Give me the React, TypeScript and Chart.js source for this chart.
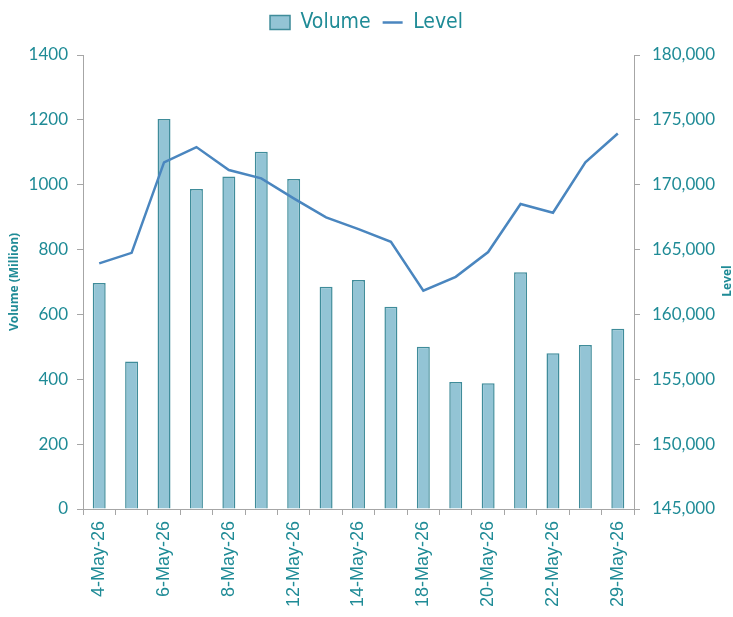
import React, { useEffect, useRef } from "react";
import { Chart, registerables } from "chart.js";

Chart.register(...registerables);

const categories = [
  "4-May-26", "5-May-26", "6-May-26", "7-May-26", "8-May-26", "11-May-26",
  "12-May-26", "13-May-26", "14-May-26", "15-May-26", "18-May-26", "19-May-26",
  "20-May-26", "21-May-26", "22-May-26", "26-May-26", "29-May-26",
];
const volume = [697, 455, 1203, 987, 1025, 1102, 1018, 685, 706, 624, 500, 392, 388, 730, 480, 506, 556];
const level = [
  163940, 164750, 171720, 172900, 171130, 170490, 168950, 167480, 166580,
  165600, 161830, 162900, 164810, 168510, 167840, 171720, 173950,
];
const volumeTicks = [0, 1400, 200];
const levelTicks = [145000, 180000, 5000];

const TEAL = "#1F8B96";
const AXIS = "#A6A6A6";

export default function App() {
  const ref = useRef<HTMLCanvasElement | null>(null);
  useEffect(() => {
    if (!ref.current) return;
    const titlePlugin = {
      id: "axisTitles",
      afterInit(chart: any) {
        const lg = chart.legend;
        if (lg) {
          const orig = lg.fit.bind(lg);
          lg.fit = function () {
            orig();
            this.height = 55;
          };
        }
      },
      afterDraw(chart: any) {
        const ctx = chart.ctx;
        const draw = (t: string, x: number, y: number) => {
          ctx.save();
          ctx.fillStyle = TEAL;
          ctx.font = "bold 12px 'Open Sans'";
          ctx.textAlign = "center";
          ctx.textBaseline = "middle";
          ctx.translate(x, y);
          ctx.rotate(-Math.PI / 2);
          ctx.fillText(t, 0, 0);
          ctx.restore();
        };
        draw("Volume (Million)", 15, 282);
        draw("Level", 728, 281);
      },
    };
    const chart = new Chart(ref.current, {
      type: "bar",
      data: {
        labels: categories,
        datasets: [
          {
            type: "bar",
            label: "Volume",
            data: volume,
            backgroundColor: "#93C4D5",
            borderColor: "#3F8C9A",
            borderWidth: 1.5,
            barPercentage: 0.4,
            categoryPercentage: 1,
            yAxisID: "y",
            order: 1,
            pointStyle: "rect",
          } as any,
          {
            type: "line",
            label: "Level",
            data: level,
            borderColor: "#4A86BF",
            backgroundColor: "#4A86BF",
            borderWidth: 2.5,
            pointRadius: 0,
            tension: 0,
            yAxisID: "y1",
            order: 0,
            pointStyle: "line",
          } as any,
        ],
      },
      options: {
        responsive: true,
        maintainAspectRatio: false,
        animation: false,
        layout: { padding: 0 },
        plugins: {
          tooltip: { enabled: false },
          legend: {
            position: "top",
            labels: {
              usePointStyle: true,
              pointStyleWidth: 20,
              boxHeight: 14,
              padding: 12,
              color: TEAL,
              font: { family: "'DejaVu Sans', sans-serif", size: 21, weight: "normal ultra-condensed" },
              sort: (a: any, b: any) => a.datasetIndex - b.datasetIndex,
            },
          },
        },
        scales: {
          x: {
            offset: true,
            grid: { offset: true, drawOnChartArea: false, drawTicks: true, tickLength: 6, color: AXIS },
            border: { color: AXIS },
            ticks: {
              autoSkip: false,
              maxRotation: 90,
              minRotation: 90,
              padding: 6,
              color: TEAL,
              font: { family: "'Liberation Sans', Arial, sans-serif", size: 18 },
              callback: function (this: any, _v: any, i: number) {
                return i % 2 === 0 ? categories[i] : "";
              },
            },
            afterFit: (s: any) => { s.height = 108; },
          },
          y: {
            position: "left",
            min: volumeTicks[0],
            max: volumeTicks[1],
            grid: { drawOnChartArea: false, drawTicks: true, tickLength: 6, color: AXIS },
            border: { color: AXIS },
            ticks: {
              stepSize: volumeTicks[2],
              padding: 9,
              color: TEAL,
              font: { family: "Lato", size: 17 },
              callback: (v: any) => String(v),
            },
            afterFit: (s: any) => { s.width = 83; },
          },
          y1: {
            position: "right",
            min: levelTicks[0],
            max: levelTicks[1],
            grid: { drawOnChartArea: false, drawTicks: true, tickLength: 6, color: AXIS },
            border: { color: AXIS },
            ticks: {
              stepSize: levelTicks[2],
              padding: 12,
              color: TEAL,
              font: { family: "Lato", size: 17 },
              callback: (v: any) => Number(v).toLocaleString("en-US"),
            },
            afterFit: (s: any) => { s.width = 99; },
          },
        },
      } as any,
      plugins: [titlePlugin],
    });
    return () => chart.destroy();
  }, []);
  return (
    <div style={{ position: "absolute", left: 0, top: 0, width: 733, height: 617 }}>
      <canvas ref={ref} />
    </div>
  );
}
